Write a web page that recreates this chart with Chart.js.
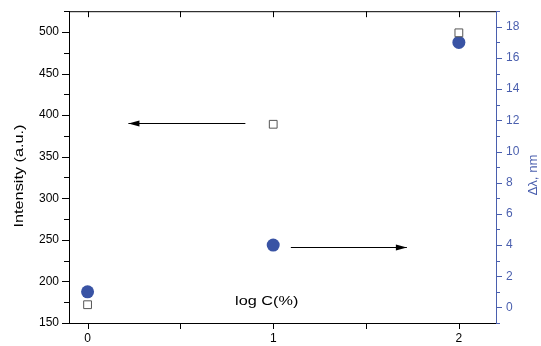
<!DOCTYPE html>
<html>
<head>
<meta charset="utf-8">
<script src="https://cdn.jsdelivr.net/npm/chart.js@4"></script>
<style>
  html, body { margin: 0; padding: 0; background: #ffffff; overflow: hidden; }
  #wrap { width: 541px; height: 346px; }
</style>
</head>
<body>
<div id="wrap"><canvas id="myChart"></canvas></div>
<script>
// Data
const logC = [0, 1, 2];
const intensity = [172, 389, 499];
const shift = [1.0, 4.0, 17.0];

const xTicks = [0, 1, 2];
const yTicks = [150, 200, 250, 300, 350, 400, 450, 500];
const y2Ticks = [0, 2, 4, 6, 8, 10, 12, 14, 16, 18];

const BLUE = '#3953a4';
const AXIS_BLUE = '#4a5fae';
const FONT = '"Liberation Sans", Arial, sans-serif';

// tick marks drawn by hand (majors + minors, in/out like the original)
const tickPlugin = {
    id: 'tickMarks',
    afterDraw: (chart) => {
        const {ctx, chartArea, scales} = chart;
        const {left, right, top, bottom} = chartArea;
        ctx.save();
        ctx.lineWidth = 1;

        // bottom and top x ticks
        ctx.strokeStyle = '#000';
        [0, 0.5, 1, 1.5, 2].forEach(v => {
            const px = Math.round(scales.x.getPixelForValue(v)) + 0.5;
            ctx.beginPath();
            ctx.moveTo(px, bottom);
            ctx.lineTo(px, bottom + 6);
            ctx.moveTo(px, top);
            ctx.lineTo(px, top + 6);
            ctx.stroke();
        });

        // left y ticks
        for (let v = 150; v <= 525; v += 25) {
            const py = Math.round(scales.y.getPixelForValue(v)) + 0.5;
            const len = (v % 50 === 0) ? 7 : 5;
            ctx.beginPath();
            ctx.moveTo(left, py);
            ctx.lineTo(left - len, py);
            ctx.stroke();
        }

        // right y ticks (blue)
        ctx.strokeStyle = AXIS_BLUE;
        for (let v = -1; v <= 19; v += 1) {
            const py = Math.round(scales.y2.getPixelForValue(v)) + 0.5;
            const len = (v % 2 === 0) ? 6 : 4;
            ctx.beginPath();
            ctx.moveTo(right, py);
            ctx.lineTo(right + len, py);
            ctx.stroke();
        }

        // top frame line
        ctx.strokeStyle = '#000';
        ctx.beginPath();
        ctx.moveTo(left, top + 0.5);
        ctx.lineTo(right, top + 0.5);
        ctx.stroke();

        // axis titles (text is a bit wide in the original, so stretch it)
        ctx.fillStyle = '#000';
        ctx.font = '13px ' + FONT;
        ctx.textAlign = 'center';
        ctx.textBaseline = 'middle';
        ctx.save();
        ctx.translate(19, 176);
        ctx.rotate(-Math.PI / 2);
        ctx.scale(1.25, 1);
        ctx.fillText('Intensity (a.u.)', 0, 0);
        ctx.restore();

        ctx.fillStyle = AXIS_BLUE;
        ctx.font = '12px ' + FONT;
        ctx.save();
        ctx.translate(534, 175);
        ctx.rotate(-Math.PI / 2);
        ctx.scale(1.1, 1);
        ctx.fillText('Δλ, nm', 0, 0);
        ctx.restore();
        ctx.restore();
    }
};

// arrows and the x title that sits inside the plot
const annotationPlugin = {
    id: 'arrows',
    afterDatasetsDraw: (chart) => {
        const {ctx, scales} = chart;
        const drawArrow = (x1, y1, x2, y2) => {
            ctx.beginPath();
            ctx.moveTo(x1, y1);
            ctx.lineTo(x2, y2);
            ctx.stroke();
            const dir = Math.sign(x2 - x1);
            ctx.beginPath();
            ctx.moveTo(x2, y2);
            ctx.lineTo(x2 - dir * 11, y2 - 3);
            ctx.lineTo(x2 - dir * 11, y2 + 3);
            ctx.closePath();
            ctx.fill();
        };
        ctx.save();
        ctx.strokeStyle = '#000';
        ctx.fillStyle = '#000';
        ctx.lineWidth = 1;

        // left arrow near the square at log C = 1
        let ay = Math.round(scales.y.getPixelForValue(391)) + 0.5;
        drawArrow(scales.x.getPixelForValue(0.85), ay, scales.x.getPixelForValue(0.22), ay);

        // right arrow near the circle at log C = 1
        let by = Math.round(scales.y2.getPixelForValue(3.9)) + 0.5;
        drawArrow(scales.x.getPixelForValue(1.095), by, scales.x.getPixelForValue(1.72), by);

        ctx.font = '13px ' + FONT;
        ctx.textAlign = 'center';
        ctx.textBaseline = 'middle';
        ctx.translate(scales.x.getPixelForValue(0.965), 301);
        ctx.scale(1.25, 1);
        ctx.fillText('log C(%)', 0, 0);
        ctx.restore();
    }
};

const ctx = document.getElementById('myChart').getContext('2d');
const myChart = new Chart(ctx, {
    type: 'scatter',
    data: {
        datasets: [{
            label: 'Intensity',
            data: logC.map((x, i) => ({x: x, y: intensity[i]})),
            yAxisID: 'y',
            pointStyle: 'rect',
            pointRadius: 5.5,
            pointBorderWidth: 1,
            pointBorderColor: '#555555',
            pointBackgroundColor: '#ffffff'
        }, {
            label: 'Shift',
            data: logC.map((x, i) => ({x: x, y: shift[i]})),
            yAxisID: 'y2',
            pointStyle: 'circle',
            pointRadius: 6.5,
            pointBorderWidth: 0,
            pointBackgroundColor: BLUE,
            pointBorderColor: BLUE
        }]
    },
    options: {
        responsive: true,
        maintainAspectRatio: false,
        animation: false,
        layout: {
            padding: {left: 0, right: 0, top: 10, bottom: 0}
        },
        plugins: {
            legend: { display: false },
            tooltip: { enabled: false }
        },
        scales: {
            x: {
                type: 'linear',
                min: -0.1,
                max: 2.2,
                afterBuildTicks: (scale) => { scale.ticks = xTicks.map(v => ({value: v})); },
                afterFit: (scale) => { scale.height = 23; },
                grid: { display: false, drawTicks: true, tickLength: 6 },
                border: { display: true, color: '#000', width: 1 },
                ticks: {
                    color: '#000',
                    font: { family: FONT, size: 12 },
                    padding: 2,
                    maxRotation: 0
                }
            },
            y: {
                type: 'linear',
                position: 'left',
                min: 150,
                max: 525,
                afterBuildTicks: (scale) => { scale.ticks = yTicks.map(v => ({value: v})); },
                afterFit: (scale) => { scale.width = 69; },
                grid: { display: false, drawTicks: true, tickLength: 7 },
                border: { display: true, color: '#000', width: 1 },
                ticks: {
                    color: '#000',
                    font: { family: FONT, size: 12 },
                    padding: 3
                }
            },
            y2: {
                type: 'linear',
                position: 'right',
                min: -1,
                max: 19,
                afterBuildTicks: (scale) => { scale.ticks = y2Ticks.map(v => ({value: v})); },
                afterFit: (scale) => { scale.width = 45; },
                grid: { display: false, drawTicks: true, tickLength: 6 },
                border: { display: true, color: AXIS_BLUE, width: 1 },
                ticks: {
                    color: AXIS_BLUE,
                    font: { family: FONT, size: 12 },
                    padding: 4
                }
            }
        }
    },
    plugins: [tickPlugin, annotationPlugin]
});
</script>
</body>
</html>
